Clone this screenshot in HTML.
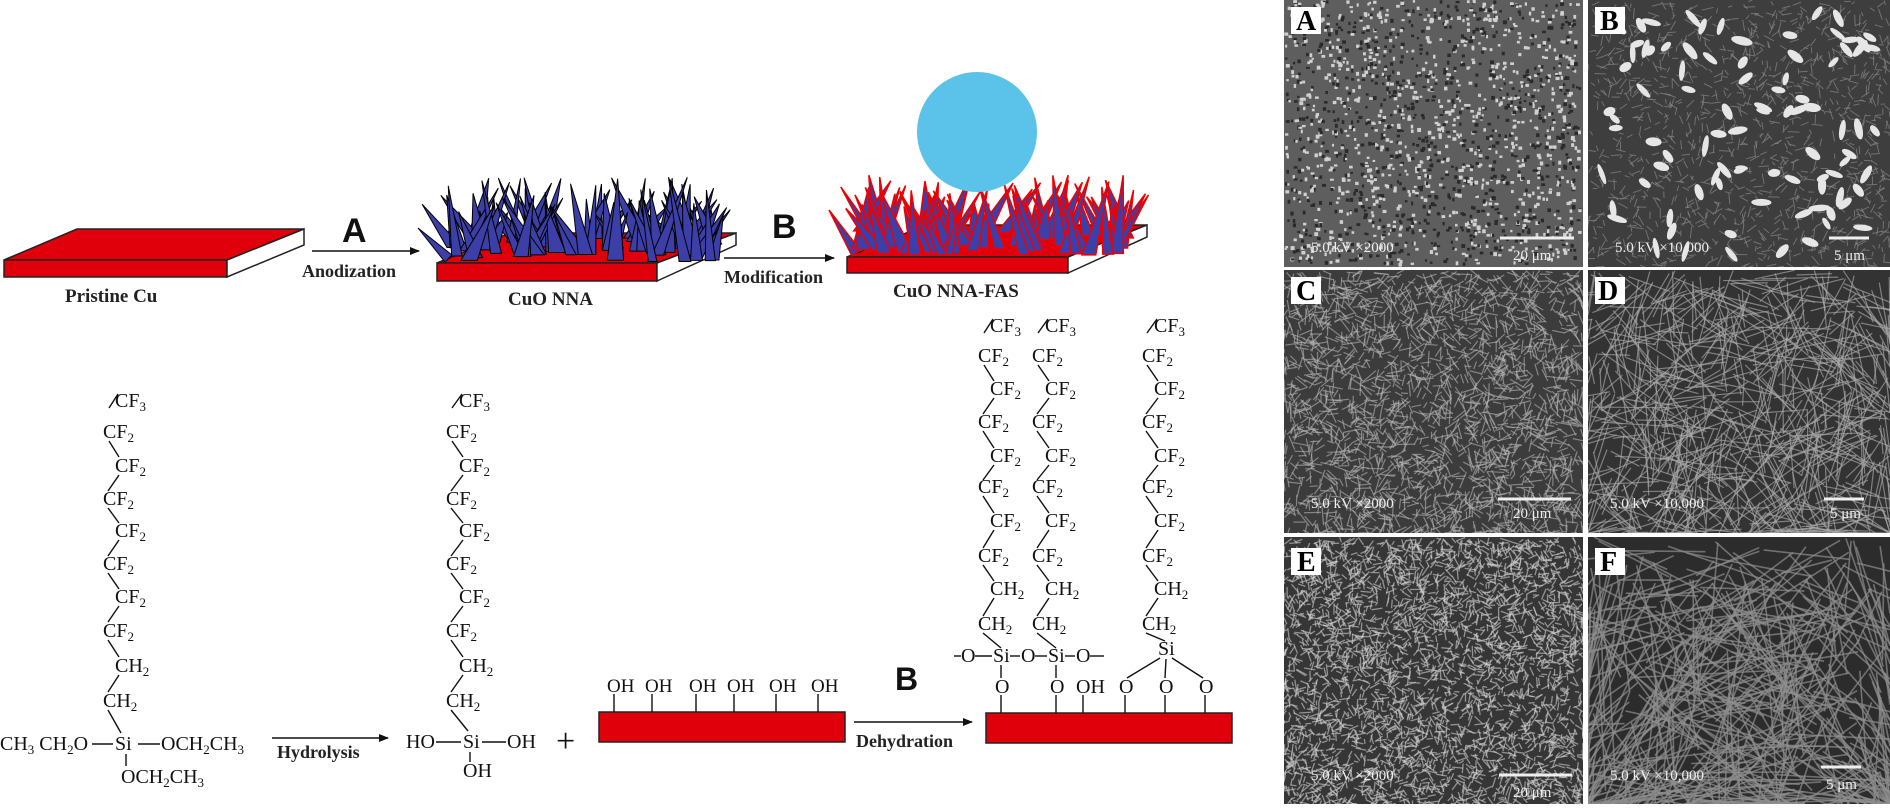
<!DOCTYPE html>
<html><head><meta charset="utf-8"><style>
html,body{margin:0;padding:0;background:#fff;width:1890px;height:809px;overflow:hidden;}
svg{display:block;overflow:hidden}
.t{font-family:"Liberation Serif",serif;font-size:20px;fill:#111}
.b{font-family:"Liberation Serif",serif;font-weight:bold;fill:#222}
.s{font-family:"Liberation Sans",sans-serif;font-weight:bold;fill:#111}
.w{font-family:"Liberation Serif",serif;fill:#eee;font-size:15px}
.l{font-family:"Liberation Serif",serif;font-weight:bold;font-size:28px;fill:#000}
line.k{stroke:#111;stroke-width:1.6}
</style></head><body>
<svg id="svg" width="1890" height="809" viewBox="0 0 1890 809" xmlns="http://www.w3.org/2000/svg">
<defs>
<marker id="ar" markerWidth="10" markerHeight="8" refX="9" refY="4" orient="auto" markerUnits="userSpaceOnUse"><path d="M0,0 L10,4 L0,8 z" fill="#111"/></marker>
<clipPath id="cA"><rect x="1284" y="0" width="299" height="267"/></clipPath>
<clipPath id="cB"><rect x="1588" y="0" width="302" height="267"/></clipPath>
<clipPath id="cC"><rect x="1284" y="270" width="299" height="263"/></clipPath>
<clipPath id="cD"><rect x="1588" y="270" width="302" height="263"/></clipPath>
<clipPath id="cE"><rect x="1284" y="537" width="299" height="267"/></clipPath>
<clipPath id="cF"><rect x="1588" y="537" width="302" height="267"/></clipPath>
</defs>

<polygon points="4,260 77,229 304,229 227,260" fill="#e0000b" stroke="#222" stroke-width="1.5"/>
<rect x="4" y="260" width="223" height="17" fill="#e0000b" stroke="#222" stroke-width="1.5"/>
<polygon points="227,260 304,229 304,245 227,277" fill="#fff" stroke="#222" stroke-width="1.5"/>
<text class="b" x="65" y="302" font-size="19">Pristine Cu</text>

<line class="k" x1="312" y1="251" x2="419" y2="251" marker-end="url(#ar)"/>
<text class="s" x="342" y="242" font-size="34">A</text>
<text class="b" x="302" y="277" font-size="18">Anodization</text>

<polygon points="437,263 510,233 736,233 657,263" fill="#e0000b" stroke="#222" stroke-width="1.5"/>
<rect x="437" y="263" width="220" height="18" fill="#e0000b" stroke="#222" stroke-width="1.5"/>
<polygon points="657,263 736,233 736,245 657,281" fill="#fff" stroke="#222" stroke-width="1.5"/>
<g id="nna"></g>
<text class="b" x="508" y="305" font-size="19">CuO NNA</text>

<line class="k" x1="724" y1="258" x2="834" y2="258" marker-end="url(#ar)"/>
<text class="s" x="772" y="238" font-size="34">B</text>
<text class="b" x="724" y="283" font-size="18">Modification</text>

<polygon points="847,257 926,225 1147,225 1068,257" fill="#e0000b" stroke="#222" stroke-width="1.5"/>
<rect x="847" y="257" width="221" height="16" fill="#e0000b" stroke="#222" stroke-width="1.5"/>
<polygon points="1068,257 1147,225 1147,237 1068,273" fill="#fff" stroke="#222" stroke-width="1.5"/>
<g id="fas"></g>
<circle cx="977" cy="132" r="60" fill="#5bc2ea"/>
<text class="b" x="893" y="297" font-size="19">CuO NNA-FAS</text>

<g class="t">
<text x="115" y="407">CF<tspan font-size="13" dy="4">3</tspan></text>
<text x="103" y="438">CF<tspan font-size="13" dy="4">2</tspan></text>
<text x="115" y="472">CF<tspan font-size="13" dy="4">2</tspan></text>
<text x="103" y="505">CF<tspan font-size="13" dy="4">2</tspan></text>
<text x="115" y="537">CF<tspan font-size="13" dy="4">2</tspan></text>
<text x="103" y="570">CF<tspan font-size="13" dy="4">2</tspan></text>
<text x="115" y="603">CF<tspan font-size="13" dy="4">2</tspan></text>
<text x="103" y="637">CF<tspan font-size="13" dy="4">2</tspan></text>
<text x="115" y="672">CH<tspan font-size="13" dy="4">2</tspan></text>
<text x="103" y="707">CH<tspan font-size="13" dy="4">2</tspan></text>
<text x="0" y="750">CH<tspan font-size="13" dy="4">3</tspan><tspan dy="-4"> CH</tspan><tspan font-size="13" dy="4">2</tspan><tspan dy="-4">O</tspan></text>
<text x="115" y="750">Si</text>
<text x="161" y="750">OCH<tspan font-size="13" dy="4">2</tspan><tspan dy="-4">CH</tspan><tspan font-size="13" dy="4">3</tspan></text>
<text x="121" y="783">OCH<tspan font-size="13" dy="4">2</tspan><tspan dy="-4">CH</tspan><tspan font-size="13" dy="4">3</tspan></text>
</g>
<g stroke="#111" stroke-width="1.4">
<line x1="118" y1="394" x2="109" y2="408"/><line x1="109" y1="441" x2="119" y2="457"/>
<line x1="119" y1="475" x2="108" y2="491"/><line x1="108" y1="508" x2="119" y2="523"/>
<line x1="119" y1="540" x2="108" y2="556"/><line x1="108" y1="573" x2="119" y2="589"/>
<line x1="119" y1="606" x2="108" y2="622"/><line x1="108" y1="640" x2="119" y2="657"/>
<line x1="119" y1="675" x2="108" y2="692"/><line x1="108" y1="710" x2="121" y2="733"/>
<line x1="92" y1="744" x2="113" y2="744"/><line x1="138" y1="744" x2="160" y2="744"/>
<line x1="126" y1="754" x2="126" y2="766"/>
</g>
<line class="k" x1="272" y1="738" x2="388" y2="738" marker-end="url(#ar)"/>
<text class="b" x="277" y="758" font-size="18">Hydrolysis</text>

<g class="t">
<text x="459" y="407">CF<tspan font-size="13" dy="4">3</tspan></text>
<text x="446" y="438">CF<tspan font-size="13" dy="4">2</tspan></text>
<text x="459" y="472">CF<tspan font-size="13" dy="4">2</tspan></text>
<text x="446" y="505">CF<tspan font-size="13" dy="4">2</tspan></text>
<text x="459" y="537">CF<tspan font-size="13" dy="4">2</tspan></text>
<text x="446" y="570">CF<tspan font-size="13" dy="4">2</tspan></text>
<text x="459" y="603">CF<tspan font-size="13" dy="4">2</tspan></text>
<text x="446" y="637">CF<tspan font-size="13" dy="4">2</tspan></text>
<text x="459" y="672">CH<tspan font-size="13" dy="4">2</tspan></text>
<text x="446" y="707">CH<tspan font-size="13" dy="4">2</tspan></text>
<text x="406" y="748">HO</text>
<text x="463" y="748">Si</text>
<text x="507" y="748">OH</text>
<text x="463" y="777">OH</text>
<text x="556" y="752" font-size="34">+</text>
</g>
<g stroke="#111" stroke-width="1.4">
<line x1="462" y1="394" x2="452" y2="408"/><line x1="452" y1="441" x2="463" y2="457"/>
<line x1="463" y1="475" x2="451" y2="491"/><line x1="451" y1="508" x2="463" y2="523"/>
<line x1="463" y1="540" x2="451" y2="556"/><line x1="451" y1="573" x2="463" y2="589"/>
<line x1="463" y1="606" x2="451" y2="622"/><line x1="451" y1="640" x2="463" y2="657"/>
<line x1="463" y1="675" x2="451" y2="692"/><line x1="451" y1="710" x2="468" y2="731"/>
<line x1="436" y1="742" x2="461" y2="742"/><line x1="482" y1="742" x2="506" y2="742"/>
<line x1="470" y1="752" x2="470" y2="762"/>
</g>

<rect x="599" y="712" width="246" height="30" fill="#e0000b" stroke="#222" stroke-width="1.5"/>
<g class="t">
<text x="607" y="692" font-size="19">OH</text><text x="645" y="692" font-size="19">OH</text>
<text x="689" y="692" font-size="19">OH</text><text x="727" y="692" font-size="19">OH</text>
<text x="769" y="692" font-size="19">OH</text><text x="811" y="692" font-size="19">OH</text>
</g>
<g stroke="#111" stroke-width="1.4">
<line x1="614" y1="694" x2="614" y2="712"/><line x1="652" y1="694" x2="652" y2="712"/>
<line x1="696" y1="694" x2="696" y2="712"/><line x1="734" y1="694" x2="734" y2="712"/>
<line x1="776" y1="694" x2="776" y2="712"/><line x1="818" y1="694" x2="818" y2="712"/>
</g>
<line class="k" x1="854" y1="722" x2="972" y2="722" marker-end="url(#ar)"/>
<text class="s" x="895" y="690" font-size="32">B</text>
<text class="b" x="856" y="747" font-size="18">Dehydration</text>

<rect x="986" y="713" width="246" height="30" fill="#e0000b" stroke="#222" stroke-width="1.5"/>
<g class="t">
<text x="990" y="332">CF<tspan font-size="13" dy="4">3</tspan></text>
<text x="978" y="362">CF<tspan font-size="13" dy="4">2</tspan></text>
<text x="990" y="395">CF<tspan font-size="13" dy="4">2</tspan></text>
<text x="978" y="428">CF<tspan font-size="13" dy="4">2</tspan></text>
<text x="990" y="462">CF<tspan font-size="13" dy="4">2</tspan></text>
<text x="978" y="493">CF<tspan font-size="13" dy="4">2</tspan></text>
<text x="990" y="527">CF<tspan font-size="13" dy="4">2</tspan></text>
<text x="978" y="562">CF<tspan font-size="13" dy="4">2</tspan></text>
<text x="990" y="595">CH<tspan font-size="13" dy="4">2</tspan></text>
<text x="978" y="630">CH<tspan font-size="13" dy="4">2</tspan></text>

<text x="1045" y="332">CF<tspan font-size="13" dy="4">3</tspan></text>
<text x="1032" y="362">CF<tspan font-size="13" dy="4">2</tspan></text>
<text x="1045" y="395">CF<tspan font-size="13" dy="4">2</tspan></text>
<text x="1032" y="428">CF<tspan font-size="13" dy="4">2</tspan></text>
<text x="1045" y="462">CF<tspan font-size="13" dy="4">2</tspan></text>
<text x="1032" y="493">CF<tspan font-size="13" dy="4">2</tspan></text>
<text x="1045" y="527">CF<tspan font-size="13" dy="4">2</tspan></text>
<text x="1032" y="562">CF<tspan font-size="13" dy="4">2</tspan></text>
<text x="1045" y="595">CH<tspan font-size="13" dy="4">2</tspan></text>
<text x="1032" y="630">CH<tspan font-size="13" dy="4">2</tspan></text>

<text x="1154" y="332">CF<tspan font-size="13" dy="4">3</tspan></text>
<text x="1142" y="362">CF<tspan font-size="13" dy="4">2</tspan></text>
<text x="1154" y="395">CF<tspan font-size="13" dy="4">2</tspan></text>
<text x="1142" y="428">CF<tspan font-size="13" dy="4">2</tspan></text>
<text x="1154" y="462">CF<tspan font-size="13" dy="4">2</tspan></text>
<text x="1142" y="493">CF<tspan font-size="13" dy="4">2</tspan></text>
<text x="1154" y="527">CF<tspan font-size="13" dy="4">2</tspan></text>
<text x="1142" y="562">CF<tspan font-size="13" dy="4">2</tspan></text>
<text x="1154" y="595">CH<tspan font-size="13" dy="4">2</tspan></text>
<text x="1142" y="630">CH<tspan font-size="13" dy="4">2</tspan></text>

<text x="961" y="662">O</text><text x="993" y="662">Si</text><text x="1021" y="662">O</text>
<text x="1048" y="662">Si</text><text x="1076" y="662">O</text>
<text x="1158" y="655">Si</text>
<text x="995" y="693">O</text><text x="1050" y="693">O</text><text x="1076" y="693">OH</text>
<text x="1119" y="693">O</text><text x="1159" y="693">O</text><text x="1199" y="693">O</text>
</g>
<g stroke="#111" stroke-width="1.4">
<line x1="993" y1="319" x2="984" y2="333"/><line x1="984" y1="365" x2="994" y2="381"/>
<line x1="994" y1="398" x2="983" y2="414"/><line x1="983" y1="431" x2="994" y2="448"/>
<line x1="994" y1="465" x2="983" y2="480"/><line x1="983" y1="496" x2="994" y2="513"/>
<line x1="994" y1="530" x2="983" y2="548"/><line x1="983" y1="565" x2="994" y2="581"/>
<line x1="994" y1="598" x2="983" y2="616"/><line x1="983" y1="633" x2="1001" y2="648"/>

<line x1="1048" y1="319" x2="1038" y2="333"/><line x1="1038" y1="365" x2="1049" y2="381"/>
<line x1="1049" y1="398" x2="1037" y2="414"/><line x1="1037" y1="431" x2="1049" y2="448"/>
<line x1="1049" y1="465" x2="1037" y2="480"/><line x1="1037" y1="496" x2="1049" y2="513"/>
<line x1="1049" y1="530" x2="1037" y2="548"/><line x1="1037" y1="565" x2="1049" y2="581"/>
<line x1="1049" y1="598" x2="1037" y2="616"/><line x1="1037" y1="633" x2="1056" y2="648"/>

<line x1="1157" y1="319" x2="1147" y2="333"/><line x1="1147" y1="365" x2="1158" y2="381"/>
<line x1="1158" y1="398" x2="1146" y2="414"/><line x1="1146" y1="431" x2="1158" y2="448"/>
<line x1="1158" y1="465" x2="1146" y2="480"/><line x1="1146" y1="496" x2="1158" y2="513"/>
<line x1="1158" y1="530" x2="1146" y2="548"/><line x1="1146" y1="565" x2="1158" y2="581"/>
<line x1="1158" y1="598" x2="1146" y2="616"/><line x1="1146" y1="633" x2="1165" y2="641"/>

<line x1="954" y1="656" x2="961" y2="656"/><line x1="975" y1="656" x2="992" y2="656"/>
<line x1="1010" y1="656" x2="1020" y2="656"/><line x1="1035" y1="656" x2="1047" y2="656"/>
<line x1="1065" y1="656" x2="1075" y2="656"/><line x1="1090" y1="656" x2="1104" y2="656"/>
<line x1="1001" y1="665" x2="1001" y2="678"/><line x1="1056" y1="665" x2="1056" y2="678"/>
<line x1="1001" y1="695" x2="1001" y2="713"/><line x1="1056" y1="695" x2="1056" y2="713"/>
<line x1="1083" y1="695" x2="1083" y2="713"/>
<line x1="1125" y1="695" x2="1125" y2="713"/><line x1="1165" y1="695" x2="1165" y2="713"/>
<line x1="1205" y1="695" x2="1205" y2="713"/>
<line x1="1160" y1="658" x2="1127" y2="678"/><line x1="1166" y1="659" x2="1165" y2="678"/>
<line x1="1172" y1="658" x2="1203" y2="678"/>
</g>

<rect x="1280" y="0" width="610" height="809" fill="#fff"/>
<g id="sem"></g>
<g>
<rect x="1291" y="7" width="30" height="27" fill="#fff"/><text class="l" x="1296" y="30">A</text>
<rect x="1595" y="7" width="30" height="27" fill="#fff"/><text class="l" x="1600" y="30">B</text>
<rect x="1291" y="277" width="30" height="27" fill="#fff"/><text class="l" x="1296" y="300">C</text>
<rect x="1595" y="277" width="30" height="27" fill="#fff"/><text class="l" x="1598" y="300">D</text>
<rect x="1291" y="548" width="30" height="27" fill="#fff"/><text class="l" x="1297" y="571">E</text>
<rect x="1595" y="548" width="30" height="27" fill="#fff"/><text class="l" x="1600" y="571">F</text>

<text class="w" x="1311" y="252">5.0 kV ×2000</text>
<line x1="1500" y1="238" x2="1574" y2="238" stroke="#eee" stroke-width="3"/>
<text class="w" x="1513" y="260">20 μm</text>
<text class="w" x="1615" y="252">5.0 kV ×10,000</text>
<line x1="1829" y1="238" x2="1869" y2="238" stroke="#eee" stroke-width="3"/>
<text class="w" x="1834" y="260">5 μm</text>

<text class="w" x="1311" y="508">5.0 kV ×2000</text>
<line x1="1498" y1="499" x2="1571" y2="499" stroke="#eee" stroke-width="3"/>
<text class="w" x="1513" y="518">20 μm</text>
<text class="w" x="1610" y="508">5.0 kV ×10,000</text>
<line x1="1824" y1="499" x2="1864" y2="499" stroke="#eee" stroke-width="3"/>
<text class="w" x="1830" y="518">5 μm</text>

<text class="w" x="1311" y="780">5.0 kV ×2000</text>
<line x1="1499" y1="775" x2="1572" y2="775" stroke="#eee" stroke-width="3"/>
<text class="w" x="1513" y="797">20 μm</text>
<text class="w" x="1610" y="780">5.0 kV ×10,000</text>
<line x1="1821" y1="767" x2="1861" y2="767" stroke="#eee" stroke-width="3"/>
<text class="w" x="1826" y="789">5 μm</text>
</g>
</svg>
<script>
(function(){
var NS="http://www.w3.org/2000/svg";
var seed=12345;function r(){seed=(seed*16807)%2147483647;return (seed-1)/2147483646;}
function el(p,n,a){var e=document.createElementNS(NS,n);for(var k in a)e.setAttribute(k,a[k]);p.appendChild(e);return e;}
function needles(g,x0,x1,y0,y1,t0,t1,n,stroke,sw){
 var arr=[];
 for(var i=0;i<n;i++){var bx=x0+r()*(x1-x0),by=y0+r()*(y1-y0);arr.push([bx,by]);}
 arr.sort(function(a,b){return a[1]-b[1];});
 arr.forEach(function(a){var bx=a[0],by=a[1];var tx=bx+(r()-0.5)*70,ty=t0+r()*(t1-t0);var hw=4+r()*5;
  el(g,"polygon",{points:(bx-hw)+","+by+" "+(bx+hw)+","+by+" "+tx+","+ty,fill:"#3d3fa8",stroke:stroke,"stroke-width":sw});});
}
var g1=document.getElementById("nna");
el(g1,"polygon",{points:"418,228 445,262 452,255",fill:"#3d3fa8",stroke:"#000","stroke-width":1});
needles(g1,450,715,236,262,176,215,90,"#000",1);
var g2=document.getElementById("fas");
el(g2,"polygon",{points:"829,210 852,256 860,250",fill:"#3d3fa8",stroke:"#e00","stroke-width":1.5});
needles(g2,860,1130,228,256,175,212,85,"#e00",1.5);
var s=document.getElementById("sem");
function cl(v,a,b){return v<a?a:(v>b?b:v);}
function panel(c,x,y,w,h,bg,f){var g=el(s,"g",{"clip-path":"url(#"+c+")"});el(g,"rect",{x:x,y:y,width:w,height:h,fill:bg});f(g,x,y,w,h);}
function lines(g,x,y,w,h,n,lmin,lmax,col,sw,op){for(var i=0;i<n;i++){var px=x+r()*w,py=y+r()*h,a=r()*Math.PI,L=lmin+r()*(lmax-lmin);
 el(g,"line",{x1:px,y1:py,x2:cl(px+Math.cos(a)*L,x,x+w),y2:cl(py+Math.sin(a)*L,y,y+h),stroke:col,"stroke-width":sw,"stroke-opacity":op});}}
panel("cA",1284,0,299,267,"#5e5e5e",function(g,x,y,w,h){
 for(var i=0;i<1800;i++){el(g,"rect",{x:x+r()*(w-4),y:y+r()*(h-4),width:2+r()*2,height:2+r()*2,fill:r()<0.55?"#d0d0d0":"#2a2a2a"});}});
panel("cB",1588,0,302,267,"#3e3e3e",function(g,x,y,w,h){
 lines(g,x,y,w,h,1200,4,12,"#888",1,0.7);
 for(var i=0;i<90;i++){var cx=x+12+r()*(w-24),cy=y+12+r()*(h-24);el(g,"ellipse",{cx:cx,cy:cy,rx:6+r()*5,ry:2.5+r()*2,fill:"#e6e6e6",transform:"rotate("+(r()*180)+" "+cx+" "+cy+")"});}});
panel("cC",1284,270,299,263,"#3c3c3c",function(g,x,y,w,h){lines(g,x,y,w,h,2200,6,18,"#b5b5b5",1.2,0.6);});
panel("cD",1588,270,302,263,"#333",function(g,x,y,w,h){lines(g,x,y,w,h,700,25,80,"#aaa",1.2,0.65);});
panel("cE",1284,537,299,267,"#363636",function(g,x,y,w,h){lines(g,x,y,w,h,3400,4,12,"#d0d0d0",1.3,0.6);});
panel("cF",1588,537,302,267,"#2c2c2c",function(g,x,y,w,h){lines(g,x,y,w,h,480,50,150,"#8f8f8f",1.6,0.7);});
})();
</script>
</body></html>
